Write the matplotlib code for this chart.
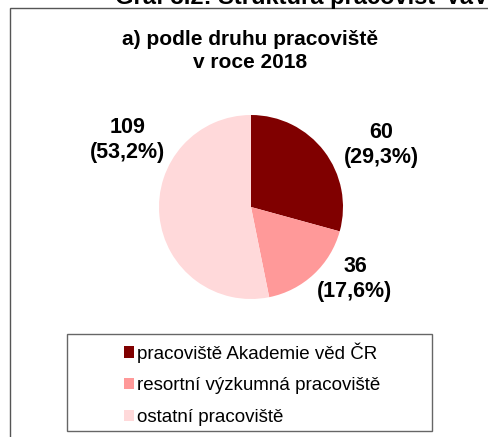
import matplotlib.pyplot as plt
from matplotlib.patches import Rectangle, Patch

plt.rcParams['font.family'] = ['Liberation Sans', 'DejaVu Sans']

# data
categories = ['pracoviště Akademie věd ČR', 'resortní výzkumná pracoviště', 'ostatní pracoviště']
values = [60, 36, 109]
percent_labels = ['29,3%', '17,6%', '53,2%']
colors = ['#800000', '#FF9999', '#FFD9DA']

W, H = 489, 437
fig = plt.figure(figsize=(W / 100, H / 100), dpi=100)

# frame of the chart area (runs off to the right and bottom)
fig.patches.append(Rectangle((10 / W, -0.05), 1.2, 1 - 8 / H + 0.05, transform=fig.transFigure,
                             fill=False, edgecolor='#555555', linewidth=1.0))

# cut-off caption above the frame
fig.text(115 / W, 1 - 4 / H, 'Graf 3.2: Struktura pracovišť VaV', fontsize=17,
         fontweight='bold', ha='left', va='baseline')

# title (baseline of the last line)
fig.text(250 / W, 1 - 68 / H, 'a) podle druhu pracoviště\nv roce 2018', fontsize=15,
         fontweight='bold', ha='center', va='baseline', linespacing=1.25, multialignment='center')

# pie
cx, cy, r = 251, 207, 92
ax = fig.add_axes([(cx - r) / W, 1 - (cy + r) / H, 2 * r / W, 2 * r / H])
ax.pie(values, colors=colors, startangle=90, counterclock=False, radius=1)
ax.set_xlim(-1, 1)
ax.set_ylim(-1, 1)
ax.set_aspect('equal')
ax.axis('off')

label_pos = [(1.413, 0.674), (1.13, -0.783), (-1.337, 0.728)]
for v, p, (lx, ly) in zip(values, percent_labels, label_pos):
    ax.text(lx, ly, f'{v}\n({p})', ha='center', va='center', fontsize=15.5,
            fontweight='bold', linespacing=1.2, clip_on=False)

# legend box
fig.patches.append(Rectangle((67 / W, 1 - 431 / H), 365 / W, 97 / H, transform=fig.transFigure,
                             fill=False, edgecolor='#666666', linewidth=1.0))
handles = [Patch(facecolor=c, edgecolor='none') for c in colors]
fig.legend(handles, categories, loc='center left', bbox_to_anchor=(124 / W, 1 - 384 / H),
           frameon=False, fontsize=13.5, handlelength=0.55, handleheight=0.55,
           handletextpad=0.12, labelspacing=0.78, borderpad=0, borderaxespad=0)

fig.savefig('out.png', dpi=100)
